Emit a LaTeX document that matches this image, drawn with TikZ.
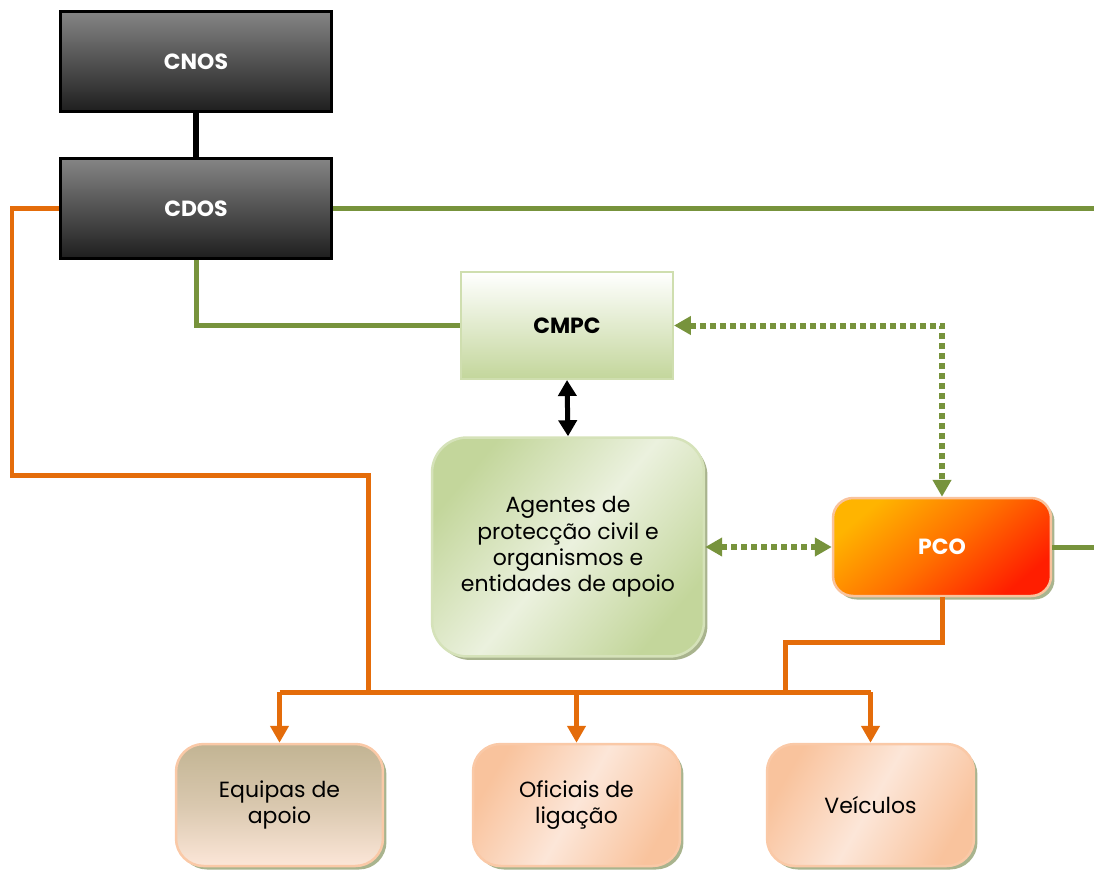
\documentclass[tikz,border=0pt]{standalone}
\usepackage{fontspec}
\setmainfont{Poppins}
\usetikzlibrary{arrows.meta, positioning, shadows}
\definecolor{Orange}{HTML}{E46C0A}
\definecolor{Olive}{HTML}{77933C}
\definecolor{Sage}{HTML}{C3D69B}
\definecolor{SageLight}{HTML}{EBF1DE}
\definecolor{Peach}{HTML}{F9C39D}
\definecolor{PeachLight}{HTML}{FCE6D8}
\definecolor{Tan}{HTML}{C2B493}
\definecolor{Shade}{HTML}{A9B48E}
\definecolor{Amber}{HTML}{FFB400}
\definecolor{Flame}{HTML}{FF7000}
\definecolor{Scarlet}{HTML}{FF1E00}
\tikzset{
  darkbox/.style={draw=black, line width=0.06cm, minimum width=5.44cm, minimum height=2cm,
    top color=black!48, bottom color=black!88, text=white, font=\fontsize{12.5}{14}\selectfont\bfseries},
  softbox/.style={rounded corners=0.55cm, line width=0.05cm, align=center,
    font=\fontsize{12.5}{15}\selectfont,
    drop shadow={shadow xshift=0.07cm, shadow yshift=-0.07cm, fill=Shade, opacity=1}},
  lowbox/.style={softbox, draw=Peach!90, minimum width=4.14cm, minimum height=2.44cm,
    top color=Peach, bottom color=Peach, middle color=PeachLight, shading angle=60},
  olive line/.style={draw=Olive, line width=0.1cm},
  olive dots/.style={draw=Olive, line width=0.12cm, dash pattern=on 0.12cm off 0.08cm,
    {Triangle[length=0.34cm,width=0.36cm]}-{Triangle[length=0.34cm,width=0.36cm]}},
  orange line/.style={draw=Orange, line width=0.1cm},
  orange arrow/.style={orange line, -{Triangle[length=0.34cm,width=0.36cm]}}
}
\begin{document}
\begin{tikzpicture}[x=0.02cm, y=-0.02cm]
\useasboundingbox (0,0) rectangle (1094,869);
% command chain
\node[darkbox] (cnos) at (196,61.5) {CNOS};
\node[darkbox] (cdos) at (196,208.5) {CDOS};
\node[draw=Sage!80, line width=0.04cm, minimum width=4.24cm, minimum height=2.14cm,
  top color=white, bottom color=Sage, font=\fontsize{12.5}{14}\selectfont\bfseries] (cmpc) at (567,325.5) {CMPC};
\node[softbox, rounded corners=0.7cm, draw=Sage!70, minimum width=5.44cm, minimum height=4.38cm,
  top color=Sage, bottom color=Sage, middle color=SageLight, shading angle=50] (agentes) at (568,547)
  {Agentes de\\protecção civil e\\organismos e\\entidades de apoio};
\node[softbox, rounded corners=0.4cm, draw=Peach, minimum width=4.36cm, minimum height=1.96cm,
  top color=Amber, bottom color=Scarlet, middle color=Flame, shading angle=40,
  text=white, font=\fontsize{12.5}{14}\selectfont\bfseries] (pco) at (942,547) {PCO};
% units on the ground
\node[lowbox, top color=Tan, bottom color=PeachLight, middle color=Tan!60!PeachLight] (equipas) at (279.5,805) {Equipas de\\apoio};
\node[lowbox] (oficiais) at (576.5,805) {Oficiais de\\ligação};
\node[lowbox] (veiculos) at (870.5,805) {Veículos};
% free ends and bends
\coordinate (edgeA) at (1094,208.5);
\coordinate (edgeB) at (1094,547);
\coordinate (cornerA) at (12,475);
\coordinate (bus) at (368,692);
\coordinate (busL) at (279.5,692);
\coordinate (busR) at (870.5,692);
\coordinate (pcoBend) at (785,642);
% links
\draw[line width=0.11cm] (cnos) -- (cdos);
\draw[olive line] (cdos.east) -- (edgeA);
\draw[olive line] (cdos.south) |- (cmpc.west);
\draw[olive dots] (cmpc.east) -| (pco.north);
\draw[line width=0.1cm, {Triangle[length=0.32cm,width=0.36cm]}-{Triangle[length=0.32cm,width=0.36cm]}] (cmpc.south) -- (agentes.north);
\draw[olive dots] (agentes.east) -- (pco.west);
\draw[olive line] (pco.east) -- (edgeB);
\draw[orange line] (cdos.west) -| (cornerA) -| (bus);
\draw[orange line] (pco.south) |- (pcoBend) |- (bus);
\draw[orange line] (busL) -- (busR);
\draw[orange arrow] (busL) -- (equipas.north);
\draw[orange arrow] (oficiais.north |- busL) -- (oficiais.north);
\draw[orange arrow] (busR) -- (veiculos.north);
\end{tikzpicture}
\end{document}
